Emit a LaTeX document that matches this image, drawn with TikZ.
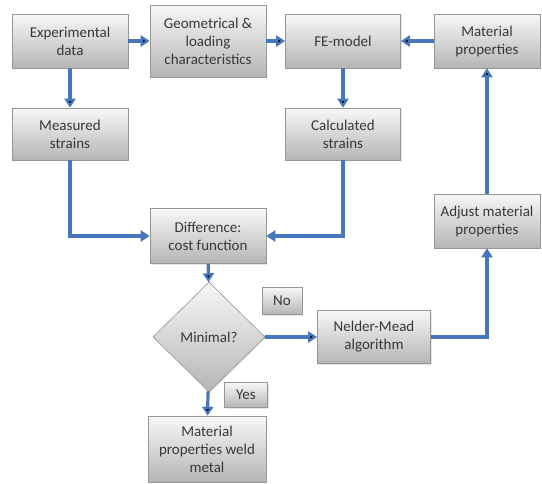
\documentclass[tikz,border=0pt]{standalone}
\usepackage{fontspec}
\setmainfont{Carlito}
\usetikzlibrary{shapes.geometric,arrows.meta,shadows}
\definecolor{flowblue}{RGB}{72,118,190}
\definecolor{boxedge}{RGB}{150,150,150}
\tikzset{
  box/.style={draw=boxedge, line width=0.6pt, top color=gray!6, bottom color=gray!58,
    align=center, text=black!78, inner sep=1pt,
    font=\fontsize{15}{18}\selectfont,
    drop shadow={opacity=0.2, shadow xshift=1pt, shadow yshift=-1pt}},
  tag/.style={box, minimum width=40pt, minimum height=27pt},
  decision/.style={box, diamond, inner sep=0pt, minimum width=112pt, minimum height=110pt},
  flow/.style={draw=flowblue, line width=3.2pt, -{Triangle[width=11pt,length=9pt]}},
}
\begin{document}
\begin{tikzpicture}[x=1pt,y=-1pt]
  \useasboundingbox (0,0) rectangle (542,483);
  \node[box, minimum width=116pt, minimum height=54pt] (ED) at (70,41) {Experimental\\data};
  \node[box, minimum width=116pt, minimum height=72pt] (GL) at (208,41) {Geometrical \&\\loading\\characteristics};
  \node[box, minimum width=115pt, minimum height=54pt] (FE) at (343,41) {FE-model};
  \node[box, minimum width=106pt, minimum height=54pt] (MP) at (487,41) {Material\\properties};
  \node[box, minimum width=116pt, minimum height=52pt] (MS) at (70,134) {Measured\\strains};
  \node[box, minimum width=115pt, minimum height=52pt] (CS) at (343,134) {Calculated\\strains};
  \node[box, minimum width=116pt, minimum height=55pt] (DF) at (208,236) {Difference:\\cost function};
  \node[decision] (MN) at (209,337) {Minimal?};
  \node[tag] (NO) at (282,301) {No};
  \node[box, minimum width=113pt, minimum height=53pt] (NM) at (374,337) {Nelder-Mead\\algorithm};
  \node[tag, minimum width=43pt, minimum height=25pt] (YS) at (246,395) {Yes};
  \node[box, minimum width=118pt, minimum height=66pt] (WM) at (207,449) {Material\\properties weld\\metal};
  \node[box, minimum width=106pt, minimum height=54pt] (AM) at (487,221) {Adjust material\\properties};
  \path[flow]
    (ED) edge (GL)
    (GL) edge (FE)
    (MP) edge (FE)
    (ED) edge (MS)
    (FE) edge (CS)
    (DF) edge (MN)
    (MN) edge (NM)
    (MN) edge (WM)
    (AM) edge (MP);
  \draw[flow] (MS.south) |- (DF.west);
  \draw[flow] (CS.south) |- (DF.east);
  \draw[flow] (NM.east) -| (AM.south);
\end{tikzpicture}
\end{document}
